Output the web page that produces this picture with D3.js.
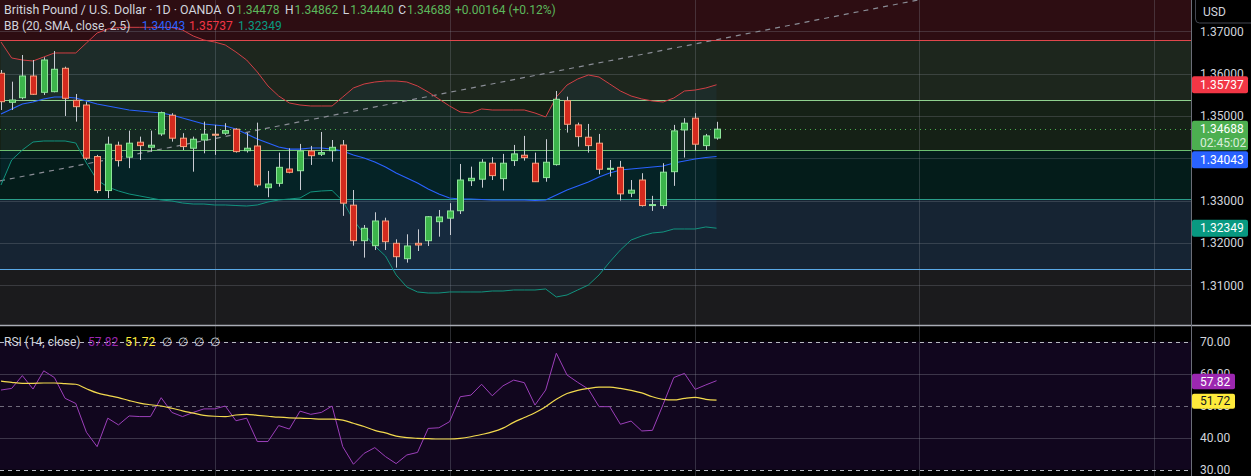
<!DOCTYPE html>
<html><head><meta charset="utf-8">
<script src="https://cdn.jsdelivr.net/npm/d3@7/dist/d3.min.js"></script>
<style>
html,body{margin:0;padding:0;background:#000;overflow:hidden}
svg{display:block}
text{font-family:Roboto,"Liberation Sans",sans-serif}
</style>
</head><body>
<svg id="chart" width="1251" height="476"></svg>
<script>
// ---------- DATA ----------
const opens  = [1.36008,1.35323,1.35431,1.35944,1.35559,1.35574,1.36126,1.35370,1.35259,1.34041,
                1.33238,1.34309,1.34026,1.34380,1.34262,1.34576,1.35017,1.34475,1.34238,1.34432,
                1.34569,1.34592,1.34687,1.34180,1.34291,1.33305,1.33409,1.33747,1.33707,1.34174,
                1.34097,1.34180,1.34314,1.32893,1.32054,1.31936,1.32519,1.31992,1.31629,1.31992,
                1.32054,1.32503,1.32586,1.32762,1.33471,1.33506,1.33884,1.33520,1.33946,1.34073,
                1.33884,1.33544,1.33851,1.35361,1.34789,1.34498,1.34357,1.33747,1.33787,1.33176,
                1.33487,1.32884,1.32884,1.33684,1.34670,1.34947,1.34300,1.34478];
const highs  = [1.36086,1.35810,1.36440,1.36322,1.36386,1.36535,1.36164,1.35519,1.35338,1.34081,
                1.34512,1.34394,1.34654,1.34512,1.34654,1.35103,1.35065,1.34593,1.34512,1.34866,
                1.34789,1.34829,1.34710,1.34607,1.34842,1.33702,1.34134,1.34236,1.34340,1.34293,
                1.34622,1.34432,1.34432,1.33251,1.32424,1.32725,1.32597,1.32086,1.32205,1.32322,
                1.32637,1.32779,1.32940,1.33866,1.33803,1.33978,1.34026,1.34104,1.34316,1.34529,
                1.34134,1.34451,1.35590,1.35456,1.34842,1.34812,1.34576,1.33960,1.33939,1.33487,
                1.33648,1.33113,1.33884,1.34789,1.34947,1.35065,1.34576,1.34862];
const lows   = [1.35141,1.35141,1.35394,1.35496,1.35496,1.35559,1.35000,1.34866,1.33960,1.33177,
                1.33059,1.33805,1.33767,1.33960,1.34158,1.34529,1.34394,1.34196,1.33684,1.34118,
                1.34081,1.34553,1.34135,1.34135,1.33318,1.33081,1.33330,1.33646,1.33251,1.33843,
                1.34055,1.33920,1.32640,1.31936,1.31654,1.31834,1.31834,1.31417,1.31535,1.31810,
                1.31929,1.32149,1.32188,1.32684,1.33346,1.33306,1.33487,1.33238,1.33820,1.33946,
                1.33447,1.33447,1.33827,1.34607,1.34276,1.34134,1.33623,1.33568,1.33002,1.33082,
                1.32860,1.32758,1.32806,1.33349,1.34017,1.34182,1.34196,1.34440];
const closes = [1.35337,1.35377,1.35944,1.35512,1.36322,1.36103,1.35418,1.35220,1.34003,1.33238,
                1.34333,1.33946,1.34357,1.34300,1.34309,1.35079,1.34475,1.34277,1.34451,1.34569,
                1.34553,1.34654,1.34158,1.34238,1.33370,1.33393,1.33787,1.33669,1.34174,1.34062,
                1.34134,1.34260,1.32940,1.32054,1.32346,1.32519,1.32030,1.31676,1.31929,1.31952,
                1.32620,1.32614,1.32756,1.33487,1.33528,1.33907,1.33591,1.33884,1.34104,1.34016,
                1.33447,1.33907,1.35394,1.34804,1.34512,1.34300,1.33741,1.33763,1.33160,1.33247,
                1.32884,1.32907,1.33672,1.34647,1.34829,1.34333,1.34529,1.34688];

const bbUpper = [1.36747,1.36370,1.36322,1.36299,1.36393,1.36488,1.36488,1.36488,1.36724,1.36960,
                 1.37054,1.37090,1.37094,1.37094,1.37094,1.37094,1.37090,1.37031,1.36889,1.36794,
                 1.36747,1.36677,1.36511,1.36322,1.36039,1.35708,1.35472,1.35307,1.35259,1.35236,
                 1.35236,1.35236,1.35448,1.35661,1.35755,1.35802,1.35826,1.35826,1.35802,1.35708,
                 1.35566,1.35401,1.35236,1.35094,1.35070,1.35165,1.35141,1.35141,1.35141,1.35141,
                 1.35070,1.34976,1.35448,1.35731,1.35873,1.35968,1.35920,1.35755,1.35590,1.35472,
                 1.35401,1.35354,1.35330,1.35424,1.35590,1.35613,1.35661,1.35737];
const bbBasis = [1.35047,1.35165,1.35283,1.35330,1.35401,1.35448,1.35448,1.35425,1.35354,1.35283,
                 1.35236,1.35188,1.35141,1.35117,1.35094,1.35070,1.35023,1.34952,1.34881,1.34810,
                 1.34787,1.34763,1.34692,1.34574,1.34456,1.34361,1.34267,1.34219,1.34219,1.34243,
                 1.34243,1.34219,1.34172,1.34078,1.34007,1.33912,1.33794,1.33653,1.33535,1.33417,
                 1.33275,1.33157,1.33062,1.33039,1.33039,1.33027,1.33015,1.33015,1.33015,1.33015,
                 1.33003,1.33015,1.33133,1.33251,1.33346,1.33440,1.33558,1.33653,1.33724,1.33747,
                 1.33771,1.33794,1.33818,1.33889,1.33936,1.33983,1.34019,1.34043];
const bbLower = [1.33369,1.33960,1.34196,1.34385,1.34409,1.34409,1.34409,1.34361,1.33889,1.33487,
                 1.33322,1.33228,1.33157,1.33110,1.33062,1.33015,1.32991,1.32944,1.32920,1.32920,
                 1.32897,1.32897,1.32885,1.32873,1.32897,1.32968,1.33015,1.33039,1.33062,1.33204,
                 1.33228,1.33240,1.32991,1.32543,1.32212,1.31929,1.31692,1.31244,1.30960,1.30842,
                 1.30818,1.30818,1.30842,1.30842,1.30842,1.30842,1.30865,1.30865,1.30889,1.30889,
                 1.30889,1.30913,1.30724,1.30771,1.30889,1.31007,1.31244,1.31551,1.31834,1.32070,
                 1.32165,1.32236,1.32259,1.32330,1.32330,1.32330,1.32378,1.32349];

const rsiValues = [54.9,55.4,59.4,55.2,60.9,58.8,52.3,50.7,41.7,37.2,
                   46.1,44.0,46.8,46.6,46.6,52.5,47.9,46.6,47.9,49.0,
                   49.0,49.9,45.3,46.1,38.8,38.8,43.8,42.7,48.3,47.3,
                   47.9,49.9,37.2,31.7,35.1,36.9,34.1,31.9,34.6,35.4,
                   42.9,43.1,45.0,52.8,53.3,56.7,53.1,56.2,58.0,57.2,
                   50.2,54.9,66.4,59.6,57.3,55.2,49.7,49.7,44.2,45.2,
                   42.1,42.3,50.4,58.8,60.1,55.1,56.5,57.82];
const rsiMA = [57.7,57.3,57.0,57.0,57.1,57.1,56.9,56.7,55.3,54.0,
               53.2,52.5,51.6,50.8,50.3,49.9,49.2,48.4,47.7,47.0,
               46.7,46.6,47.1,47.3,47.0,46.7,46.4,46.2,46.1,46.0,
               45.8,45.8,45.5,44.5,43.5,42.3,41.5,40.5,40.0,39.8,
               39.7,39.6,39.6,39.8,40.3,41.0,41.8,43.0,44.8,46.3,
               47.8,49.7,52.0,53.8,54.8,55.4,55.8,55.8,55.4,54.8,
               54.0,52.8,52.0,51.8,52.3,52.6,52.0,51.72];

const priceTicks = [1.31,1.32,1.33,1.34,1.35,1.36,1.37];
const rsiTicks = [30,40,50,60,70];
const rsiDashed = [30,50,70];
const levelPrices = [1.36787,1.35377,1.34189,1.33031,1.31385];
const monthGridIdx = [20,42,65,86,108];
const trendPts = [[-0.094,1.33467],[85.86,1.37739]];
const lastClose = 1.34688;
const countdown = "02:45:02";
const headerTitle = "British Pound / U.S. Dollar · 1D · OANDA";
const ohlcLabels = ["O","H","L","C"];
const ohlcValues = ["1.34478","1.34862","1.34440","1.34688"];
const changeText = "+0.00164 (+0.12%)";

// ---------- LAYOUT / STYLE ----------
const W = 1251, H = 476, plotR = 1191, mainB = 325, rsiT = 326;
const zoneColors = ["#2d0d12","#1d261d","#152116","#041c1a","#162433","#1b1b1d"];
const levelColors = ["#e0474c","#8fd18f","#6cc070","#2a9d8a","#5aa9e6"];
const upCol = "#3cb44b", upBorder = "#8ee59a", dnCol = "#d42a1e", dnBorder = "#f6a07e", wickCol = "#c9ccd3";
const txt = "#d1d4dc";

const svg = d3.select("#chart");
const x = d3.scaleLinear().domain([0,108]).range([1,1154.4]);
const y = d3.scaleLinear().domain([1.31,1.37]).range([285.3,31.3]);
const yr = d3.scaleLinear().domain([30,70]).range([469.7,341.7]);
const idx = d3.range(closes.length);

svg.append("defs").append("clipPath").attr("id","mainClip")
  .append("rect").attr("x",0).attr("y",0).attr("width",plotR).attr("height",mainB);
svg.select("defs").append("clipPath").attr("id","rsiClip")
  .append("rect").attr("x",0).attr("y",rsiT).attr("width",plotR).attr("height",H-rsiT);

svg.append("rect").attr("width",W).attr("height",H).attr("fill","#000");

// ---------- MAIN PANE ----------
const main = svg.append("g").attr("clip-path","url(#mainClip)");
const bounds = [0, ...levelPrices.map(p=>y(p)), mainB];
main.selectAll("rect.zone").data(zoneColors).join("rect").attr("class","zone")
  .attr("x",0).attr("width",plotR)
  .attr("y",(d,i)=>bounds[i]).attr("height",(d,i)=>bounds[i+1]-bounds[i])
  .attr("fill",d=>d);

// grid
main.selectAll("line.hg").data(priceTicks).join("line").attr("class","hg")
  .attr("x1",0).attr("x2",plotR).attr("y1",d=>Math.round(y(d))+0.5).attr("y2",d=>Math.round(y(d))+0.5)
  .attr("stroke","rgba(140,144,156,0.28)");
main.selectAll("line.vg").data(monthGridIdx).join("line").attr("class","vg")
  .attr("x1",d=>Math.round(x(d))+0.5).attr("x2",d=>Math.round(x(d))+0.5).attr("y1",0).attr("y2",mainB)
  .attr("stroke","rgba(140,144,156,0.28)");

// BB fill
main.append("path").datum(idx)
  .attr("d",d3.area().x(i=>x(i)).y0(i=>y(bbLower[i])).y1(i=>y(bbUpper[i])))
  .attr("fill","rgba(33,150,243,0.06)");

// levels
main.selectAll("line.lvl").data(levelPrices).join("line").attr("class","lvl")
  .attr("x1",0).attr("x2",plotR).attr("y1",d=>Math.round(y(d))+0.5).attr("y2",d=>Math.round(y(d))+0.5)
  .attr("stroke",(d,i)=>levelColors[i]).attr("stroke-width",1.2);

// trend line
main.append("line")
  .attr("x1",x(trendPts[0][0])).attr("y1",y(trendPts[0][1]))
  .attr("x2",x(trendPts[1][0])).attr("y2",y(trendPts[1][1]))
  .attr("stroke","#8a8d96").attr("stroke-width",1.2).attr("stroke-dasharray","5,5");

// last price dotted
main.append("line").attr("x1",0).attr("x2",plotR)
  .attr("y1",Math.round(y(lastClose))+0.5).attr("y2",Math.round(y(lastClose))+0.5)
  .attr("stroke","#4caf50").attr("stroke-dasharray","1,4");

// BB lines
const bbLine = arr => d3.line().x(i=>x(i)).y(i=>y(arr[i]));
main.append("path").datum(idx).attr("d",bbLine(bbUpper)).attr("fill","none").attr("stroke","#d13f45").attr("stroke-width",1);
main.append("path").datum(idx).attr("d",bbLine(bbBasis)).attr("fill","none").attr("stroke","#2962ff").attr("stroke-width",1.2);
main.append("path").datum(idx).attr("d",bbLine(bbLower)).attr("fill","none").attr("stroke","#12937e").attr("stroke-width",1);

// candles
const cg = main.append("g");
cg.selectAll("line.wick").data(idx).join("line").attr("class","wick")
  .attr("x1",i=>Math.round(x(i))+0.5).attr("x2",i=>Math.round(x(i))+0.5)
  .attr("y1",i=>y(highs[i])).attr("y2",i=>y(lows[i]))
  .attr("stroke",wickCol).attr("stroke-width",1);
cg.selectAll("rect.body").data(idx).join("rect").attr("class","body")
  .attr("x",i=>Math.round(x(i))-2.5).attr("width",6)
  .attr("y",i=>Math.min(y(opens[i]),y(closes[i])))
  .attr("height",i=>Math.max(1,Math.abs(y(opens[i])-y(closes[i]))))
  .attr("fill",i=>closes[i]>=opens[i]?upCol:dnCol)
  .attr("stroke",i=>closes[i]>=opens[i]?upBorder:dnBorder).attr("stroke-width",1);

// ---------- RSI PANE ----------
const rp = svg.append("g").attr("clip-path","url(#rsiClip)");
rp.append("rect").attr("x",0).attr("width",plotR).attr("y",yr(70)).attr("height",yr(30)-yr(70)).attr("fill","#11061e");
rp.selectAll("line.vg").data(monthGridIdx).join("line").attr("class","vg")
  .attr("x1",d=>Math.round(x(d))+0.5).attr("x2",d=>Math.round(x(d))+0.5).attr("y1",rsiT).attr("y2",H)
  .attr("stroke","rgba(140,144,156,0.3)");
rp.selectAll("line.rg").data(rsiTicks.filter(t=>!rsiDashed.includes(t))).join("line").attr("class","rg")
  .attr("x1",0).attr("x2",plotR).attr("y1",d=>Math.round(yr(d))+0.5).attr("y2",d=>Math.round(yr(d))+0.5)
  .attr("stroke","rgba(140,144,156,0.35)");
rp.selectAll("line.rd").data(rsiDashed).join("line").attr("class","rd")
  .attr("x1",0).attr("x2",plotR).attr("y1",d=>Math.round(yr(d))+0.5).attr("y2",d=>Math.round(yr(d))+0.5)
  .attr("stroke",d=>d===50?"#6f6a7a":"#b8bac2").attr("stroke-dasharray","4,4");
rp.append("path").datum(idx).attr("d",d3.line().x(i=>x(i)).y(i=>yr(rsiValues[i])))
  .attr("fill","none").attr("stroke","#9c3fba").attr("stroke-width",1);
rp.append("path").datum(idx).attr("d",d3.line().curve(d3.curveMonotoneX).x(i=>x(i)).y(i=>yr(rsiMA[i])))
  .attr("fill","none").attr("stroke","#f2d94e").attr("stroke-width",1.2);

// separators
svg.append("line").attr("x1",0).attr("x2",W).attr("y1",325.5).attr("y2",325.5).attr("stroke","#a9acb5").attr("stroke-width",1.5);
svg.append("line").attr("x1",plotR+0.5).attr("x2",plotR+0.5).attr("y1",0).attr("y2",H).attr("stroke","#6b6e78");

// ---------- AXES ----------
const pAxis = svg.append("g").attr("transform",`translate(${plotR},0)`)
  .call(d3.axisRight(y).tickValues(priceTicks).tickFormat(d3.format(".5f")).tickSize(0).tickPadding(9));
const rAxis = svg.append("g").attr("transform",`translate(${plotR},0)`)
  .call(d3.axisRight(yr).tickValues(rsiTicks).tickFormat(d3.format(".2f")).tickSize(0).tickPadding(9));
[pAxis,rAxis].forEach(a=>{
  a.select(".domain").remove();
  a.selectAll("text").attr("fill",txt).attr("font-size",12).attr("font-family","Roboto, sans-serif");
});

// USD box
svg.append("rect").attr("x",1195.5).attr("y",-4).attr("width",60).attr("height",27).attr("rx",4)
  .attr("fill","#000").attr("stroke","#434651");
svg.append("text").attr("x",1203).attr("y",16).text("USD").attr("fill",txt).attr("font-size",12);

// badges
function badge(cy, h, color, lines, textColor){
  const g = svg.append("g");
  g.append("rect").attr("x",plotR+1).attr("y",cy-8.5).attr("width",56).attr("height",h).attr("rx",2).attr("fill",color);
  lines.forEach((t,k)=>{
    g.append("text").attr("x",plotR+9).attr("y",cy+4+k*14).text(t)
      .attr("fill",k===0?textColor:"rgba(255,255,255,0.8)").attr("font-size",12);
  });
  return cy-8.5+h;
}
const f5 = d3.format(".5f"), f2 = d3.format(".2f");
const nLast = closes.length-1;
badge(y(bbUpper[nLast]),17,"#f23645",[f5(bbUpper[nLast])],"#fff");
const gBottom = badge(y(lastClose),29.5,"#4caf50",[f5(lastClose),countdown],"#fff");
badge(Math.max(y(bbBasis[nLast]), gBottom+1+8.5),17,"#2962ff",[f5(bbBasis[nLast])],"#fff");
badge(y(bbLower[nLast]),17,"#089981",[f5(bbLower[nLast])],"#fff");
svg.append("rect").attr("x",plotR+1).attr("y",yr(rsiValues[nLast])-7).attr("width",43).attr("height",15.5).attr("rx",2).attr("fill","#9c27b0");
svg.append("text").attr("x",plotR+9).attr("y",yr(rsiValues[nLast])+5).text(f2(rsiValues[nLast])).attr("fill","#fff").attr("font-size",12);
svg.append("rect").attr("x",plotR+1).attr("y",yr(rsiMA[nLast])-6.5).attr("width",43).attr("height",15).attr("rx",2).attr("fill","#ffeb3b");
svg.append("text").attr("x",plotR+9).attr("y",yr(rsiMA[nLast])+5).text(f2(rsiMA[nLast])).attr("fill","#131722").attr("font-size",12);

// ---------- LEGENDS ----------
const lg = svg.append("g").attr("font-size",12);
lg.append("text").attr("x",4).attr("y",14).text(headerTitle).attr("fill",txt).attr("font-size",12.4);
const ohlcX = [226.7,285,342.7,398.3];
ohlcLabels.forEach((l,k)=>{
  const t = lg.append("text").attr("x",ohlcX[k]).attr("y",14).attr("fill",txt);
  t.append("tspan").text(l);
  t.append("tspan").text(ohlcValues[k]).attr("fill","#5cb85c").attr("dx",1);
});
lg.append("text").attr("x",455).attr("y",14).text(changeText).attr("fill","#5cb85c");
lg.append("text").attr("x",4).attr("y",30).text("BB (20, SMA, close, 2.5)").attr("fill",txt);
lg.append("text").attr("x",141.7).attr("y",30).text(f5(bbBasis[nLast])).attr("fill","#2962ff");
lg.append("text").attr("x",189).attr("y",30).text(f5(bbUpper[nLast])).attr("fill","#f23645");
lg.append("text").attr("x",238).attr("y",30).text(f5(bbLower[nLast])).attr("fill","#089981");
lg.append("text").attr("x",4).attr("y",346).text("RSI (14, close)").attr("fill",txt);
lg.append("text").attr("x",88).attr("y",346).text(f2(rsiValues[nLast])).attr("fill","#9c27b0");
lg.append("text").attr("x",125).attr("y",346).text(f2(rsiMA[nLast])).attr("fill","#ffeb3b");
[162,178,194,210].forEach(px=>lg.append("text").attr("x",px).attr("y",346).text("∅").attr("fill",txt));
</script>
</body></html>
